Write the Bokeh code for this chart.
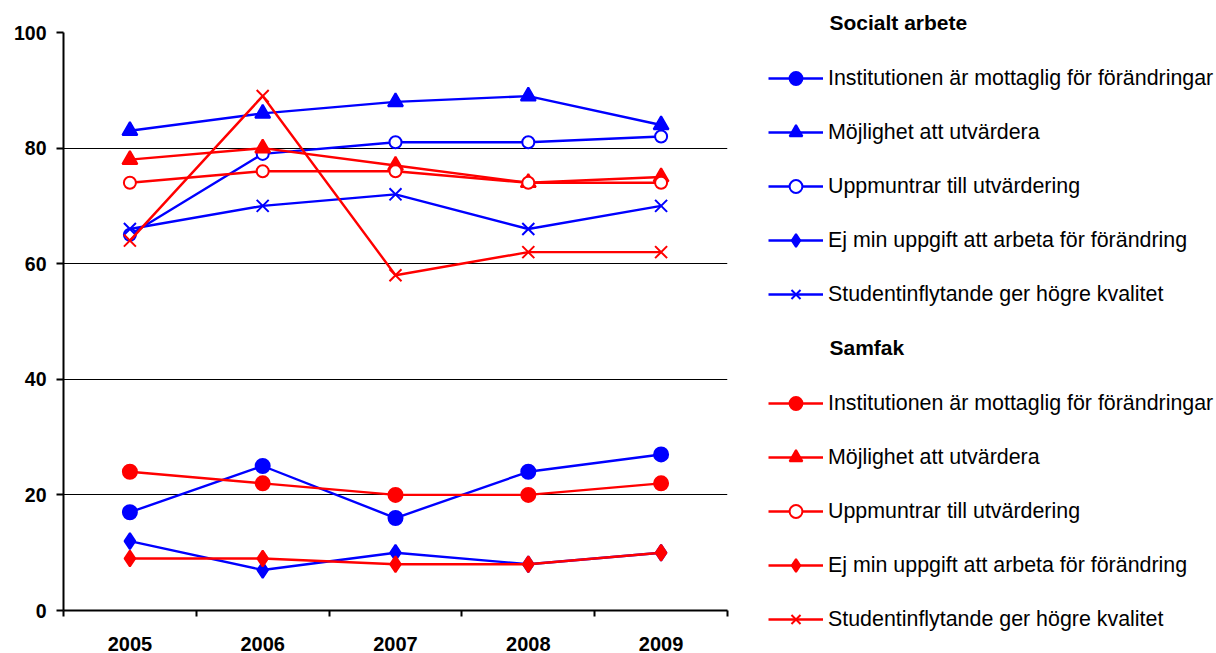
from bokeh.plotting import figure
from bokeh.layouts import row
from bokeh.models import (FixedTicker, Legend, LegendItem, Range1d, Label)
from bokeh.embed import file_html
from bokeh.resources import INLINE

years = [2005, 2006, 2007, 2008, 2009]

series_labels = [
    "Institutionen är mottaglig för förändringar",
    "Möjlighet att utvärdera",
    "Uppmuntrar till utvärdering",
    "Ej min uppgift att arbeta för förändring",
    "Studentinflytande ger högre kvalitet",
]
group_names = ["Socialt arbete", "Samfak"]

# Socialt arbete (blue)
sa_mottaglig = [17, 25, 16, 24, 27]
sa_mojlighet = [83, 86, 88, 89, 84]
sa_uppmuntrar = [65, 79, 81, 81, 82]
sa_ejmin = [12, 7, 10, 8, 10]
sa_student = [66, 70, 72, 66, 70]

# Samfak (red)
sf_mottaglig = [24, 22, 20, 20, 22]
sf_mojlighet = [78, 80, 77, 74, 75]
sf_uppmuntrar = [74, 76, 76, 74, 74]
sf_ejmin = [9, 9, 8, 8, 10]
sf_student = [64, 89, 58, 62, 62]

y_ticks = [0, 20, 40, 60, 80, 100]

groups = [
    ("#0000FF", [sa_mottaglig, sa_mojlighet, sa_uppmuntrar, sa_ejmin, sa_student]),
    ("#FF0000", [sf_mottaglig, sf_mojlighet, sf_uppmuntrar, sf_ejmin, sf_student]),
]
markers = ["circle", "triangle", "circle", "diamond", "x"]
filled = [True, True, False, True, True]
msizes = [14, 15, 12, 16, 17]

FONT = "Liberation Sans"
MAIN_W, LEG_W, H = 765, 451, 653
TOP, BOTTOM = 32, 43

p = figure(width=MAIN_W, height=H, output_backend="svg", toolbar_location=None,
           x_range=Range1d(years[0] - 0.5, years[-1] + 0.5), y_range=Range1d(0, 100),
           min_border_left=63, min_border_top=TOP, min_border_bottom=BOTTOM, min_border_right=38)
p.frame_align = False
p.outline_line_color = None
p.background_fill_color = "white"
p.border_fill_color = "white"

p.xgrid.visible = False
p.ygrid.ticker = FixedTicker(ticks=y_ticks)
p.ygrid.grid_line_color = "black"
p.ygrid.grid_line_width = 1

p.xaxis.ticker = FixedTicker(ticks=years, minor_ticks=[y - 0.5 for y in years] + [years[-1] + 0.5])
p.xaxis.major_tick_out = 0
p.xaxis.major_tick_in = 0
p.xaxis.minor_tick_out = 6
p.xaxis.minor_tick_in = 0
p.xaxis.minor_tick_line_color = "black"
p.xaxis.minor_tick_line_width = 2
p.xaxis.axis_line_width = 2
p.xaxis.axis_line_color = "black"
p.xaxis.major_label_standoff = 20
p.xaxis.major_label_text_font = FONT
p.xaxis.major_label_text_font_style = "bold"
p.xaxis.major_label_text_font_size = "20px"
p.xaxis.major_label_text_color = "black"

p.yaxis.ticker = FixedTicker(ticks=y_ticks)
p.yaxis.minor_tick_line_color = None
p.yaxis.major_tick_out = 7
p.yaxis.major_tick_in = 0
p.yaxis.major_tick_line_width = 2
p.yaxis.axis_line_width = 2
p.yaxis.axis_line_color = "black"
p.yaxis.major_label_standoff = 10
p.yaxis.major_label_text_font = FONT
p.yaxis.major_label_text_font_style = "bold"
p.yaxis.major_label_text_font_size = "19.5px"
p.yaxis.major_label_text_color = "black"

for color, vals_list in groups:
    for vals, mk, fl, ms in zip(vals_list, markers, filled, msizes):
        p.line(years, vals, line_color=color, line_width=2.4)
        p.scatter(years, vals, marker=mk, size=ms, line_color=color, line_width=2,
                  fill_color=color if fl else "white")

# Legend panel: frame covers the whole canvas, 1 data unit = 1 px
lf = figure(width=LEG_W, height=H, output_backend="svg", toolbar_location=None,
            x_range=Range1d(0, LEG_W), y_range=Range1d(0, H),
            min_border=0, min_border_left=0, min_border_right=0,
            min_border_top=0, min_border_bottom=0)
lf.frame_align = False
lf.axis.visible = False
lf.grid.visible = False
lf.outline_line_color = None

legend_y = [343, 18]
header_y = [631, 306]
for (color, vals_list), ly, hy, gname in zip(groups, legend_y, header_y, group_names):
    items = []
    for vals, lab, mk, fl in zip(vals_list, series_labels, markers, filled):
        # proxies drawn out of this panel's view; used only for legend glyphs
        r1 = lf.line(years, vals, line_color=color, line_width=2.4)
        r2 = lf.scatter(years, vals, marker=mk, line_color=color, line_width=2,
                        fill_color=color if fl else "white")
        items.append(LegendItem(label=lab, renderers=[r1, r2]))
    leg = Legend(items=items, location=(3, ly), margin=0, padding=4,
                 glyph_width=55, glyph_height=32, spacing=22, label_standoff=5,
                 label_text_font=FONT, label_text_font_size="21.4px",
                 label_text_color="black", border_line_color=None,
                 background_fill_alpha=0)
    lf.add_layout(leg)
    lf.add_layout(Label(x=64, y=hy, text=gname, text_font=FONT, text_font_size="21px",
                        text_font_style="bold", text_baseline="middle", text_color="black"))

layout = row(p, lf)
open("out.html", "w").write(file_html(layout, INLINE))
